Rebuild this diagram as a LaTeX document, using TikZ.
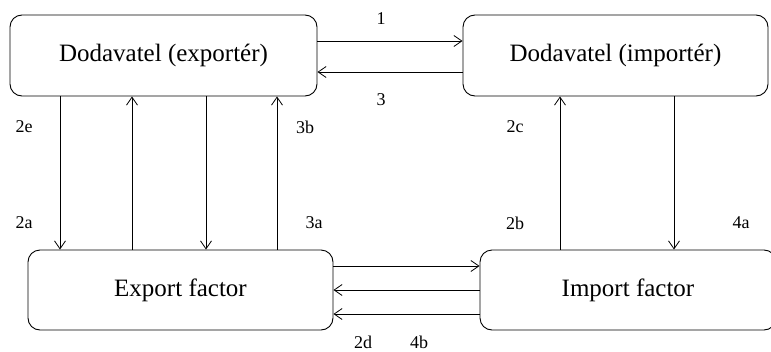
\documentclass[tikz,border=0pt]{standalone}
\usepackage{fontspec}
\setmainfont{Liberation Serif}
\usetikzlibrary{arrows.meta}
\begin{document}
\begin{tikzpicture}[x=1pt,y=-1pt,
  box/.style={draw, line width=0.9pt, rounded corners=12pt, inner sep=0pt,
    font=\fontsize{25}{28}\selectfont},
  conn/.style={line width=0.8pt, -{Straight Barb[length=8pt,width=11pt]}},
  lbl/.style={font=\fontsize{18}{20}\selectfont, inner sep=0pt}]
\useasboundingbox (0,0) rectangle (771,351);
\node[box, minimum width=307pt, minimum height=81pt] (A) at (163.5,55.5) {Dodavatel (exportér)};
\node[box, minimum width=305pt, minimum height=81pt] (B) at (615.5,55.5) {Dodavatel (importér)};
\node[box, minimum width=305pt, minimum height=80pt] (C) at (180.5,290) {Export factor};
\node[box, minimum width=296pt, minimum height=80pt] (D) at (628,290) {Import factor};
% horizontal top
\draw[conn] (A.east |- 0,41) -- (B.west |- 0,41);
\draw[conn] (B.west |- 0,72) -- (A.east |- 0,72);
% horizontal bottom
\draw[conn] (C.east |- 0,266) -- (D.west |- 0,266);
\draw[conn] (D.west |- 0,290) -- (C.east |- 0,290);
\draw[conn] (D.west |- 0,314) -- (C.east |- 0,314);
% verticals left
\draw[conn] (A.south -| 60,0) -- (C.north -| 60,0);
\draw[conn] (C.north -| 132,0) -- (A.south -| 132,0);
\draw[conn] (A.south -| 206,0) -- (C.north -| 206,0);
\draw[conn] (C.north -| 277,0) -- (A.south -| 277,0);
% verticals right
\draw[conn] (D.north -| 560,0) -- (B.south -| 560,0);
\draw[conn] (B.south -| 674,0) -- (D.north -| 674,0);
% labels
\node[lbl] (l1) at (381,19) {1};
\node[lbl] (l3) at (381,100) {3};
\node[lbl] (l2e) at (24,127) {2e};
\node[lbl] (l2a) at (24,223) {2a};
\node[lbl] (l3b) at (305,127) {3b};
\node[lbl] (l3a) at (314,223) {3a};
\node[lbl] (l2c) at (515,127) {2c};
\node[lbl] (l2b) at (515,223) {2b};
\node[lbl] (l4a) at (741,223) {4a};
\node[lbl] (l2d) at (363,342) {2d};
\node[lbl] (l4b) at (419,342) {4b};
\end{tikzpicture}
\end{document}
